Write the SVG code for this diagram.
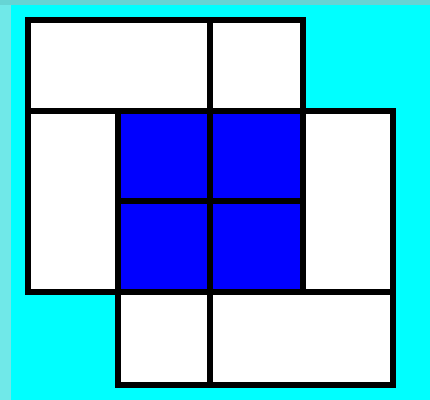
<svg xmlns="http://www.w3.org/2000/svg" width="430" height="400" viewBox="0 0 430 400">
  <style>
    .w { fill: #ffffff; stroke: #000000; stroke-width: 6; }
    .b { fill: #0000ff; stroke: #000000; stroke-width: 6; }
    .ln { stroke: #000000; stroke-width: 6; fill: none; }
  </style>
  <rect x="0" y="0" width="430" height="400" fill="#00ffff"/>
  <rect x="0" y="0" width="11" height="400" fill="#70e8e8"/>
  <rect x="0" y="0" width="430" height="5" fill="#66d4d4"/>
  <g id="top">
    <rect class="w" x="28" y="20" width="275" height="91"/>
    <line class="ln" x1="210" y1="20" x2="210" y2="111"/>
  </g>
  <g id="left">
    <rect class="w" x="28" y="111" width="90" height="181"/>
  </g>
  <g id="right">
    <rect class="w" x="303" y="111" width="90" height="181"/>
  </g>
  <g id="bottom">
    <rect class="w" x="118" y="292" width="275" height="93"/>
    <line class="ln" x1="210" y1="292" x2="210" y2="385"/>
  </g>
  <g id="center">
    <rect class="b" x="118" y="111" width="185" height="181"/>
    <line class="ln" x1="210" y1="111" x2="210" y2="292"/>
    <line class="ln" x1="118" y1="201" x2="303" y2="201"/>
  </g>
</svg>
